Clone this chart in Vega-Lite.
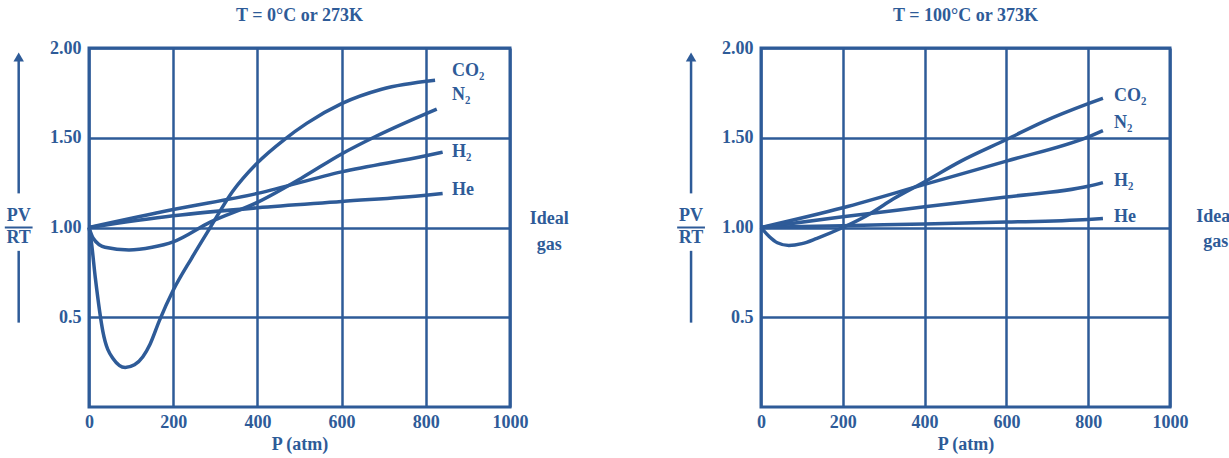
{
  "$schema": "https://vega.github.io/schema/vega-lite/v6.json",
  "background": "white",
  "padding": {"left": 2, "top": 5, "right": 0, "bottom": 0},
  "spacing": 103,
  "datasets": {
    "c0": [
      {"gas": "CO2", "P": 0, "Z": 1.0}, {"gas": "CO2", "P": 5, "Z": 0.93}, {"gas": "CO2", "P": 15, "Z": 0.72},
      {"gas": "CO2", "P": 33, "Z": 0.42}, {"gas": "CO2", "P": 57, "Z": 0.27}, {"gas": "CO2", "P": 86, "Z": 0.22},
      {"gas": "CO2", "P": 108, "Z": 0.235}, {"gas": "CO2", "P": 128, "Z": 0.28}, {"gas": "CO2", "P": 145, "Z": 0.35}, {"gas": "CO2", "P": 167, "Z": 0.48},
      {"gas": "CO2", "P": 200, "Z": 0.65}, {"gas": "CO2", "P": 244, "Z": 0.83}, {"gas": "CO2", "P": 288, "Z": 1.0},
      {"gas": "CO2", "P": 341, "Z": 1.2}, {"gas": "CO2", "P": 400, "Z": 1.36}, {"gas": "CO2", "P": 464, "Z": 1.49},
      {"gas": "CO2", "P": 517, "Z": 1.58}, {"gas": "CO2", "P": 600, "Z": 1.69}, {"gas": "CO2", "P": 695, "Z": 1.77},
      {"gas": "CO2", "P": 822, "Z": 1.82},
      {"gas": "N2", "P": 0, "Z": 1.0}, {"gas": "N2", "P": 10, "Z": 0.94}, {"gas": "N2", "P": 38, "Z": 0.89},
      {"gas": "N2", "P": 95, "Z": 0.875}, {"gas": "N2", "P": 150, "Z": 0.89}, {"gas": "N2", "P": 200, "Z": 0.92},
      {"gas": "N2", "P": 288, "Z": 1.03}, {"gas": "N2", "P": 400, "Z": 1.14}, {"gas": "N2", "P": 508, "Z": 1.28},
      {"gas": "N2", "P": 600, "Z": 1.41}, {"gas": "N2", "P": 683, "Z": 1.51}, {"gas": "N2", "P": 826, "Z": 1.66},
      {"gas": "H2", "P": 0, "Z": 1.0}, {"gas": "H2", "P": 200, "Z": 1.1}, {"gas": "H2", "P": 400, "Z": 1.19},
      {"gas": "H2", "P": 600, "Z": 1.31}, {"gas": "H2", "P": 800, "Z": 1.4}, {"gas": "H2", "P": 840, "Z": 1.42},
      {"gas": "He", "P": 0, "Z": 1.0}, {"gas": "He", "P": 200, "Z": 1.065}, {"gas": "He", "P": 400, "Z": 1.11},
      {"gas": "He", "P": 600, "Z": 1.145}, {"gas": "He", "P": 800, "Z": 1.18}, {"gas": "He", "P": 840, "Z": 1.19}
    ],
    "c100": [
      {"gas": "CO2", "P": 0, "Z": 1.0}, {"gas": "CO2", "P": 20, "Z": 0.95}, {"gas": "CO2", "P": 40, "Z": 0.915},
      {"gas": "CO2", "P": 68, "Z": 0.9}, {"gas": "CO2", "P": 100, "Z": 0.91}, {"gas": "CO2", "P": 137, "Z": 0.94},
      {"gas": "CO2", "P": 200, "Z": 1.0}, {"gas": "CO2", "P": 269, "Z": 1.08}, {"gas": "CO2", "P": 324, "Z": 1.16},
      {"gas": "CO2", "P": 400, "Z": 1.255}, {"gas": "CO2", "P": 489, "Z": 1.37}, {"gas": "CO2", "P": 600, "Z": 1.49},
      {"gas": "CO2", "P": 691, "Z": 1.59}, {"gas": "CO2", "P": 800, "Z": 1.69}, {"gas": "CO2", "P": 836, "Z": 1.72},
      {"gas": "N2", "P": 0, "Z": 1.0}, {"gas": "N2", "P": 200, "Z": 1.11}, {"gas": "N2", "P": 400, "Z": 1.24},
      {"gas": "N2", "P": 600, "Z": 1.37}, {"gas": "N2", "P": 800, "Z": 1.505}, {"gas": "N2", "P": 836, "Z": 1.54},
      {"gas": "H2", "P": 0, "Z": 1.0}, {"gas": "H2", "P": 200, "Z": 1.06}, {"gas": "H2", "P": 400, "Z": 1.115},
      {"gas": "H2", "P": 600, "Z": 1.17}, {"gas": "H2", "P": 800, "Z": 1.23}, {"gas": "H2", "P": 836, "Z": 1.25},
      {"gas": "He", "P": 0, "Z": 1.0}, {"gas": "He", "P": 200, "Z": 1.01}, {"gas": "He", "P": 400, "Z": 1.02},
      {"gas": "He", "P": 600, "Z": 1.03}, {"gas": "He", "P": 800, "Z": 1.045}, {"gas": "He", "P": 836, "Z": 1.05}
    ],
    "l0": [
      {"label": "CO₂", "P": 862, "Z": 1.87}, {"label": "N₂", "P": 862, "Z": 1.74},
      {"label": "H₂", "P": 862, "Z": 1.42}, {"label": "He", "P": 862, "Z": 1.21}
    ],
    "l100": [
      {"label": "CO₂", "P": 863, "Z": 1.73}, {"label": "N₂", "P": 863, "Z": 1.58},
      {"label": "H₂", "P": 863, "Z": 1.26}, {"label": "He", "P": 863, "Z": 1.06}
    ],
    "g0": [{"label": "Ideal", "P": 1093, "Z": 1.05}, {"label": "gas", "P": 1093, "Z": 0.9}],
    "g100": [{"label": "Ideal", "P": 1112, "Z": 1.06}, {"label": "gas", "P": 1112, "Z": 0.92}]
  },
  "config": {
    "font": "Liberation Serif",
    "view": {"stroke": "#2e5b98", "strokeWidth": 3},
    "axis": {
      "grid": true, "gridColor": "#2e5b98", "gridWidth": 2.5, "gridOpacity": 1,
      "domain": false, "ticks": false, "labelFlush": false, "labelOverlap": false,
      "labelFont": "Liberation Serif", "labelFontWeight": "bold", "labelFontSize": 18, "labelColor": "#2e5b98",
      "titleFont": "Liberation Serif", "titleFontWeight": "bold", "titleFontSize": 18, "titleColor": "#2e5b98"
    },
    "title": {"font": "Liberation Serif", "fontWeight": "bold", "fontSize": 18, "color": "#2e5b98", "anchor": "middle"},
    "line": {"color": "#2e5b98", "strokeWidth": 3.5, "interpolate": "monotone"},
    "rule": {"color": "#2e5b98", "strokeWidth": 2.5},
    "point": {"color": "#2e5b98", "filled": true, "opacity": 1},
    "text": {"font": "Liberation Serif", "fontWeight": "bold", "fontSize": 18, "color": "#2e5b98"}
  },
  "hconcat": [
    {
      "width": 421, "height": 359,
      "title": {"text": "T = 0°C or 273K", "offset": 14},
      "layer": [
        {
          "data": {"name": "c0"},
          "mark": {"type": "line"},
          "encoding": {
            "x": {"field": "P", "type": "quantitative", "scale": {"domain": [0, 1000], "nice": false},
                  "axis": {"values": [0, 200, 400, 600, 800, 1000], "format": "d", "title": "P (atm)", "labelPadding": 6, "titlePadding": 4}},
            "y": {"field": "Z", "type": "quantitative", "scale": {"domain": [0, 2], "nice": false},
                  "axis": {"values": [0.5, 1, 1.5, 2], "title": null, "labelPadding": 8,
                           "labelExpr": "datum.value == 0.5 ? '0.5' : format(datum.value, '.2f')"}},
            "detail": {"field": "gas"}
          }
        },
        {
          "data": {"name": "l0"},
          "mark": {"type": "text", "align": "left", "baseline": "middle"},
          "encoding": {"x": {"field": "P", "type": "quantitative"}, "y": {"field": "Z", "type": "quantitative"}, "text": {"field": "label"}}
        },
        {
          "data": {"name": "g0"},
          "mark": {"type": "text", "align": "center", "baseline": "middle"},
          "encoding": {"x": {"field": "P", "type": "quantitative"}, "y": {"field": "Z", "type": "quantitative"}, "text": {"field": "label"}}
        },
        {
          "data": {"values": [{}]},
          "mark": {"type": "rule"},
          "encoding": {"x": {"datum": -167, "type": "quantitative"}, "y": {"datum": 1.93, "type": "quantitative"}, "y2": {"datum": 1.19}}
        },
        {
          "data": {"values": [{}]},
          "mark": {"type": "rule"},
          "encoding": {"x": {"datum": -167, "type": "quantitative"}, "y": {"datum": 0.87, "type": "quantitative"}, "y2": {"datum": 0.47}}
        },
        {
          "data": {"values": [{}]},
          "mark": {"type": "rule", "strokeWidth": 2},
          "encoding": {"x": {"datum": -200, "type": "quantitative"}, "x2": {"datum": -134}, "y": {"datum": 1.0, "type": "quantitative"}}
        },
        {
          "data": {"values": [{}]},
          "mark": {"type": "point", "shape": "triangle-up", "size": 110},
          "encoding": {"x": {"datum": -167, "type": "quantitative"}, "y": {"datum": 1.95, "type": "quantitative"}}
        },
        {
          "data": {"values": [{}]},
          "mark": {"type": "text", "align": "center", "baseline": "middle"},
          "encoding": {"x": {"datum": -167, "type": "quantitative"}, "y": {"datum": 1.065, "type": "quantitative"}, "text": {"value": "PV"}}
        },
        {
          "data": {"values": [{}]},
          "mark": {"type": "text", "align": "center", "baseline": "middle"},
          "encoding": {"x": {"datum": -167, "type": "quantitative"}, "y": {"datum": 0.94, "type": "quantitative"}, "text": {"value": "RT"}}
        }
      ]
    },
    {
      "width": 409, "height": 359,
      "title": {"text": "T = 100°C or 373K", "offset": 14},
      "layer": [
        {
          "data": {"name": "c100"},
          "mark": {"type": "line"},
          "encoding": {
            "x": {"field": "P", "type": "quantitative", "scale": {"domain": [0, 1000], "nice": false},
                  "axis": {"values": [0, 200, 400, 600, 800, 1000], "format": "d", "title": "P (atm)", "labelPadding": 6, "titlePadding": 4}},
            "y": {"field": "Z", "type": "quantitative", "scale": {"domain": [0, 2], "nice": false},
                  "axis": {"values": [0.5, 1, 1.5, 2], "title": null, "labelPadding": 8,
                           "labelExpr": "datum.value == 0.5 ? '0.5' : format(datum.value, '.2f')"}},
            "detail": {"field": "gas"}
          }
        },
        {
          "data": {"name": "l100"},
          "mark": {"type": "text", "align": "left", "baseline": "middle"},
          "encoding": {"x": {"field": "P", "type": "quantitative"}, "y": {"field": "Z", "type": "quantitative"}, "text": {"field": "label"}}
        },
        {
          "data": {"name": "g100"},
          "mark": {"type": "text", "align": "center", "baseline": "middle"},
          "encoding": {"x": {"field": "P", "type": "quantitative"}, "y": {"field": "Z", "type": "quantitative"}, "text": {"field": "label"}}
        },
        {
          "data": {"values": [{}]},
          "mark": {"type": "rule"},
          "encoding": {"x": {"datum": -171, "type": "quantitative"}, "y": {"datum": 1.93, "type": "quantitative"}, "y2": {"datum": 1.19}}
        },
        {
          "data": {"values": [{}]},
          "mark": {"type": "rule"},
          "encoding": {"x": {"datum": -171, "type": "quantitative"}, "y": {"datum": 0.87, "type": "quantitative"}, "y2": {"datum": 0.47}}
        },
        {
          "data": {"values": [{}]},
          "mark": {"type": "rule", "strokeWidth": 2},
          "encoding": {"x": {"datum": -205, "type": "quantitative"}, "x2": {"datum": -137}, "y": {"datum": 1.0, "type": "quantitative"}}
        },
        {
          "data": {"values": [{}]},
          "mark": {"type": "point", "shape": "triangle-up", "size": 110},
          "encoding": {"x": {"datum": -171, "type": "quantitative"}, "y": {"datum": 1.95, "type": "quantitative"}}
        },
        {
          "data": {"values": [{}]},
          "mark": {"type": "text", "align": "center", "baseline": "middle"},
          "encoding": {"x": {"datum": -171, "type": "quantitative"}, "y": {"datum": 1.065, "type": "quantitative"}, "text": {"value": "PV"}}
        },
        {
          "data": {"values": [{}]},
          "mark": {"type": "text", "align": "center", "baseline": "middle"},
          "encoding": {"x": {"datum": -171, "type": "quantitative"}, "y": {"datum": 0.94, "type": "quantitative"}, "text": {"value": "RT"}}
        }
      ]
    }
  ]
}
